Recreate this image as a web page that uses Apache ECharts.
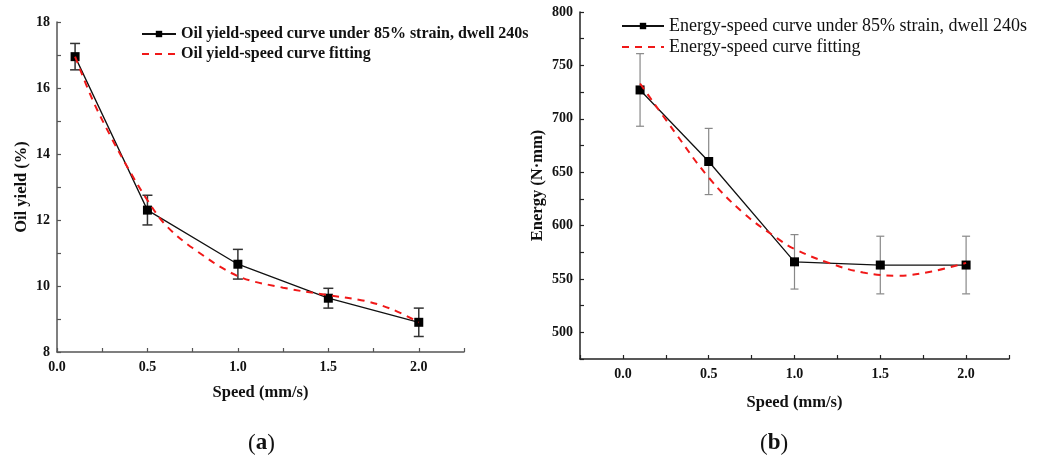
<!DOCTYPE html>
<html>
<head>
<meta charset="utf-8">
<script src="https://cdn.jsdelivr.net/npm/echarts@6/dist/echarts.min.js"></script>
<style>
  html, body { margin: 0; padding: 0; background: #fff; }
  #chart { width: 1046px; height: 464px; }
</style>
</head>
<body>
<div id="chart"></div>
<script>
// (a) oil yield vs speed
const speedA = [0.1, 0.5, 1.0, 1.5, 2.0];
const oilYield = [16.95, 12.3, 10.66, 9.63, 8.9];
const oilYieldErr = [0.4, 0.45, 0.45, 0.3, 0.43];
const oilFitSpeed = [0.1, 0.2, 0.3, 0.4, 0.5, 0.6, 0.75, 1.0, 1.25, 1.5, 1.7, 1.85, 2.0];
const oilFit = [16.95, 15.6, 14.5, 13.5, 12.6, 11.85, 11.15, 10.3, 9.95, 9.72, 9.55, 9.3, 8.9];

// (b) energy vs speed
const speedB = [0.1, 0.5, 1.0, 1.5, 2.0];
const energy = [727, 660, 566, 563, 563];
const energyErr = [34, 31, 25.5, 27, 27];
const energyFitSpeed = [0.1, 0.3, 0.5, 0.7, 0.9, 1.0, 1.2, 1.4, 1.6, 1.8, 2.0];
const energyFit = [733, 688, 645, 612, 588, 578, 565, 556, 553, 557, 565];

const serif = '"Liberation Serif", "Times New Roman", serif';

const pairs = (xs, ys) => xs.map((x, i) => [x, ys[i]]);
const errRows = (xs, ys, es) => xs.map((x, i) => [x, ys[i] - es[i], ys[i] + es[i]]);

const errorBar = (color, width, cap) => (params, api) => {
    const top = api.coord([api.value(0), api.value(2)]);
    const bot = api.coord([api.value(0), api.value(1)]);
    const style = { stroke: color, lineWidth: width };
    return {
        type: 'group',
        children: [
            { type: 'line', shape: { x1: top[0], y1: top[1], x2: bot[0], y2: bot[1] }, style },
            { type: 'line', shape: { x1: top[0] - cap, y1: top[1], x2: top[0] + cap, y2: top[1] }, style },
            { type: 'line', shape: { x1: bot[0] - cap, y1: bot[1], x2: bot[0] + cap, y2: bot[1] }, style },
        ]
    };
};

const halfLabel = (step) => (v) => {
    const r = Math.round(v / step * 1000) / 1000;
    return Math.abs(r - Math.round(r)) < 1e-6 ? v.toFixed(1) : '';
};

const xAxisBase = (idx, min, color) => ({
    gridIndex: idx,
    type: 'value',
    min: min,
    max: 2.25,
    interval: 0.25,
    name: 'Speed (mm/s)',
    nameLocation: 'middle',
    nameGap: 32,
    nameTextStyle: { fontFamily: serif, fontWeight: 'bold', fontSize: 16.5, color: '#111' },
    axisLine: { onZero: false, lineStyle: { color: color, width: 1.5 } },
    axisTick: { inside: true, length: 4, lineStyle: { color: color, width: 1.2 } },
    axisLabel: {
        fontFamily: serif, fontWeight: 'bold', fontSize: 14, color: '#111', margin: 8,
        formatter: halfLabel(0.5)
    },
    splitLine: { show: false }
});

const chart = echarts.init(document.getElementById('chart'));

chart.setOption({
    backgroundColor: '#fff',
    animation: false,
    grid: [
        { left: 57, top: 22, width: 407, height: 330 },
        { left: 580, top: 12, width: 429, height: 347 }
    ],
    legend: [
        {
            left: 136, top: 21, orient: 'vertical', itemGap: 4,
            itemWidth: 34, itemHeight: 8,
            textStyle: { fontFamily: serif, fontWeight: 'bold', fontSize: 16, color: '#111' },
            data: [
                'Oil yield-speed curve under 85% strain, dwell 240s',
                { name: 'Oil yield-speed curve fitting', itemStyle: { opacity: 0 } }
            ]
        },
        {
            left: 616, top: 12, orient: 'vertical', itemGap: 3,
            itemWidth: 42, itemHeight: 8,
            textStyle: { fontFamily: serif, fontSize: 18, color: '#111' },
            data: [
                'Energy-speed curve under 85% strain, dwell 240s',
                { name: 'Energy-speed curve fitting', itemStyle: { opacity: 0 } }
            ]
        }
    ],
    xAxis: [
        xAxisBase(0, 0, '#555'),
        Object.assign(xAxisBase(1, -0.25, '#222'), { nameGap: 35 })
    ],
    yAxis: [
        {
            gridIndex: 0, type: 'value', min: 8, max: 18, interval: 1,
            name: 'Oil yield (%)', nameLocation: 'middle', nameGap: 27,
            nameTextStyle: { fontFamily: serif, fontWeight: 'bold', fontSize: 16.5, color: '#111' },
            axisLine: { show: true, onZero: false, lineStyle: { color: '#555', width: 1.5 } },
            axisTick: { inside: true, length: 4, lineStyle: { color: '#555', width: 1.2 } },
            axisLabel: {
                fontFamily: serif, fontWeight: 'bold', fontSize: 14, color: '#111', margin: 7,
                formatter: (v) => (v % 2 === 0 ? String(v) : '')
            },
            splitLine: { show: false }
        },
        {
            gridIndex: 1, type: 'value', min: 475, max: 800, interval: 25,
            name: 'Energy (N·mm)', nameLocation: 'middle', nameGap: 34,
            nameTextStyle: { fontFamily: serif, fontWeight: 'bold', fontSize: 16.5, color: '#111' },
            axisLine: { show: true, onZero: false, lineStyle: { color: '#222', width: 1.5 } },
            axisTick: { inside: true, length: 4, lineStyle: { color: '#222', width: 1.2 } },
            axisLabel: {
                fontFamily: serif, fontWeight: 'bold', fontSize: 14, color: '#111', margin: 7,
                formatter: (v) => (v % 50 === 0 ? String(v) : '')
            },
            splitLine: { show: false }
        }
    ],
    series: [
        {
            type: 'custom', xAxisIndex: 0, yAxisIndex: 0,
            renderItem: errorBar('#333', 1.5, 5),
            data: errRows(speedA, oilYield, oilYieldErr), z: 1
        },
        {
            name: 'Oil yield-speed curve under 85% strain, dwell 240s',
            type: 'line', xAxisIndex: 0, yAxisIndex: 0,
            data: pairs(speedA, oilYield),
            symbol: 'rect', symbolSize: 9,
            itemStyle: { color: '#000' },
            lineStyle: { color: '#111', width: 1.3 }, z: 2
        },
        {
            name: 'Oil yield-speed curve fitting',
            type: 'line', xAxisIndex: 0, yAxisIndex: 0,
            data: pairs(oilFitSpeed, oilFit),
            smooth: 0.35, showSymbol: false, symbol: 'none',
            itemStyle: { color: '#f01818' },
            lineStyle: { color: '#f01818', width: 2, type: [7, 6] }, z: 3
        },
        {
            type: 'custom', xAxisIndex: 1, yAxisIndex: 1,
            renderItem: errorBar('#888', 1.2, 4),
            data: errRows(speedB, energy, energyErr), z: 1
        },
        {
            name: 'Energy-speed curve under 85% strain, dwell 240s',
            type: 'line', xAxisIndex: 1, yAxisIndex: 1,
            data: pairs(speedB, energy),
            symbol: 'rect', symbolSize: 9,
            itemStyle: { color: '#000' },
            lineStyle: { color: '#111', width: 1.3 }, z: 2
        },
        {
            name: 'Energy-speed curve fitting',
            type: 'line', xAxisIndex: 1, yAxisIndex: 1,
            data: pairs(energyFitSpeed, energyFit),
            smooth: 0.4, showSymbol: false, symbol: 'none',
            itemStyle: { color: '#f01818' },
            lineStyle: { color: '#f01818', width: 2, type: [7, 6] }, z: 3
        }
    ],
    graphic: [
        {
            type: 'text', left: 248, top: 432,
            style: {
                text: '{p|(}{b|a}{p|)}',
                rich: {
                    p: { fontFamily: serif, fontSize: 23, fill: '#111' },
                    b: { fontFamily: serif, fontSize: 23, fontWeight: 'bold', fill: '#111' }
                }
            }
        },
        {
            type: 'text', left: 760, top: 432,
            style: {
                text: '{p|(}{b|b}{p|)}',
                rich: {
                    p: { fontFamily: serif, fontSize: 23, fill: '#111' },
                    b: { fontFamily: serif, fontSize: 23, fontWeight: 'bold', fill: '#111' }
                }
            }
        }
    ]
});
</script>
</body>
</html>
